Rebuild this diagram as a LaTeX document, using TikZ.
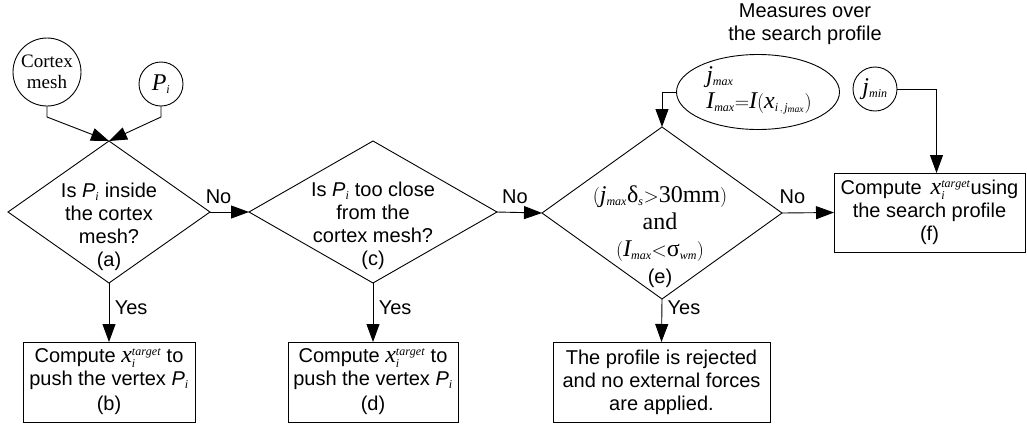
\RequirePackage{fix-cm}
\documentclass[tikz,border=0pt]{standalone}
\usepackage{fontspec}
\setmainfont{Liberation Sans}
\newfontfamily\tmsfont{Liberation Serif}
\newfontfamily\tmsmath[NFSSFamily=tmsm,Scale=1.2]{Liberation Serif}
\DeclareMathAlphabet{\mathtms}{TU}{tmsm}{m}{it}
\DeclareMathSizes{20}{20}{10}{8}
\newcommand\mv[1]{\mathtms{#1}}
\newcommand\mr[1]{\mbox{\tmsmath #1}}
\newcommand\vtxP{\textit{P}$_{\mv{i}}$}
\usetikzlibrary{shapes.geometric,arrows.meta}

\begin{document}
\begin{tikzpicture}[x=1pt,y=-1pt,line width=0.9pt,
  every node/.style={font=\fontsize{20}{23}\selectfont},
  decision/.style={draw,diamond,inner sep=0pt,outer sep=0pt},
  actbox/.style={draw,rectangle,inner sep=0pt,outer sep=0pt,align=center},
  inball/.style={draw,circle,inner sep=0pt,outer sep=0pt,align=center},
  flow/.style={-{Triangle[length=18pt,width=13pt]}},
  caption/.style={align=center}]
  \useasboundingbox (0,0) rectangle (1027,424);

  % inputs
  \node[inball,minimum size=68pt,font=\fontsize{19}{21}\selectfont\tmsfont] (cortex) at (47,72) {Cortex\\mesh};
  \node[inball,minimum size=44pt] (pi) at (161,84) {$\mv{P}_{\mv{i}}$};
  \node[caption] (title) at (805,24) {Measures over\\the search profile};
  \node[draw,ellipse,minimum width=163pt,minimum height=75pt,inner sep=0pt,outer sep=0pt] (meas) at (758,92) {};
  \node[align=left,font=\fontsize{20}{26}\selectfont] (meas-t) at (759,90)
    {$\mv{j}_{\mv{max}}$\\$\mv{I}_{\mv{max}}{=}\mv{I}\bigl(\mv{x}_{\mv{i}\,,\,\mv{j}_{\mv{max}}}\bigr)$};
  \node[inball,minimum size=44pt] (jmin) at (875,89) {$\mv{j}_{\mv{min}}$};

  % decisions
  \node[decision,minimum width=202pt,minimum height=142pt] (qa) at (109,212) {};
  \node[caption] (qa-t) at (109,227) {Is \vtxP{} inside\\the cortex\\mesh?\\(a)};
  \node[decision,minimum width=248pt,minimum height=142pt] (qc) at (373,212) {};
  \node[caption] (qc-t) at (373,226) {Is \vtxP{} too close\\from the\\cortex mesh?\\(c)};
  \node[decision,minimum width=240pt,minimum height=172pt] (qe) at (662,213) {};
  \node[caption,font=\fontsize{20}{27}\selectfont] (qe-t) at (660,237)
    {$\bigl(\mv{j}_{\mv{max}}\mr{δ}_{\mv{s}}{>}\mr{30mm}\bigr)$\\{\tmsmath and}\\$\bigl(\mv{I}_{\mv{max}}{<}\mr{σ}_{\mv{wm}}\bigr)$\\(e)};

  % actions
  \node[actbox,minimum width=172pt,minimum height=80pt] (pushb) at (109,382)
    {Compute $\mv{x}_{\mv{i}}^{\mv{target}}$ to\\push the vertex \vtxP\\[2pt](b)};
  \node[actbox,minimum width=170pt,minimum height=80pt] (pushd) at (373,382)
    {Compute $\mv{x}_{\mv{i}}^{\mv{target}}$ to\\push the vertex \vtxP\\[2pt](d)};
  \node[actbox,minimum width=217pt,minimum height=80pt] (reject) at (661.5,382)
    {The profile is rejected\\and no external forces\\are applied.};
  \node[actbox,minimum width=191pt,minimum height=79pt] (search) at (929.5,212.5)
    {Compute \,$\mv{x}_{\mv{i}}^{\mv{target}}$using\\the search profile\\(f)};

  % connectors
  \draw[flow] (cortex.south) -- ++(0,11) -- (qa.north);
  \draw[flow] (pi.south) -- ++(0,11) -- (qa.north);
  \draw[flow] (qa.east) -- node[pos=0.22,above=5pt] {No} (qc.west);
  \draw[flow] (qc.east) -- node[pos=0.4,above=5pt] {No} (qe.west);
  \draw[flow] (qe.east) -- node[pos=0.2,above=5pt] {No} (search.west);
  \draw[flow] (qa.south) -- node[pos=0.42,right=2pt] {Yes} (pushb.north);
  \draw[flow] (qc.south) -- node[pos=0.42,right=2pt] {Yes} (pushd.north);
  \draw[flow] (qe.south) -- node[pos=0.2,right=2pt] {Yes} (reject.north);
  \draw[flow] (meas.west) -| (qe.north);
  \draw[flow] (jmin.east) -| ([xshift=7pt]search.north);
\end{tikzpicture}
\end{document}
